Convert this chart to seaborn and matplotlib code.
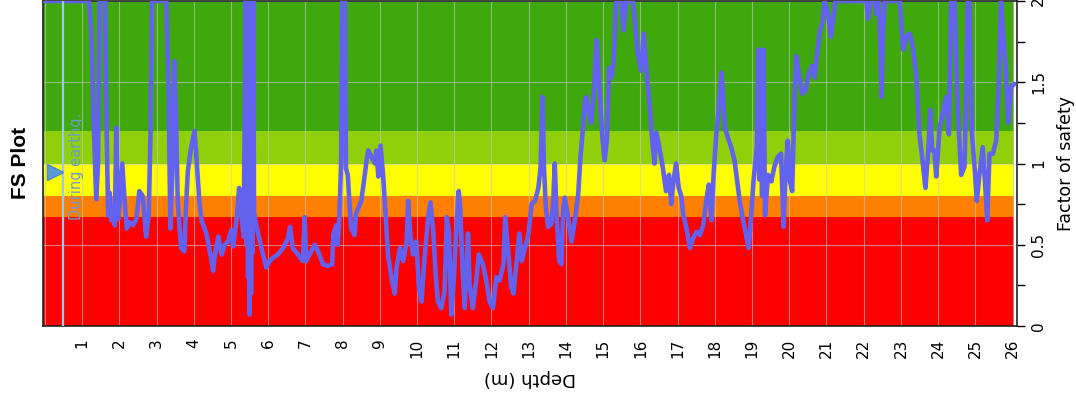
import matplotlib
matplotlib.use("Agg")
import matplotlib.pyplot as plt
from matplotlib.ticker import MultipleLocator
import numpy as np
import pandas as pd
import seaborn as sns

# Factor of safety profile (values above 2 are clipped at the chart limit)
depth = [
    0.0, 1.18, 1.25, 1.32, 1.38, 1.43, 1.47, 1.62, 1.66, 1.70, 1.74, 1.79, 1.83, 1.88, 1.92, 1.95, 1.98,
    2.08, 2.14, 2.20, 2.28, 2.37, 2.46, 2.54, 2.63, 2.68, 2.72, 2.79, 2.84, 2.88, 3.26, 3.33, 3.37, 3.42,
    3.48, 3.53, 3.57, 3.66, 3.75, 3.79, 3.84, 3.93, 4.02, 4.06, 4.15,
    4.21, 4.34, 4.48, 4.52, 4.57, 4.66, 4.75, 4.83, 4.92, 5.01, 5.06, 5.15, 5.22, 5.28, 5.34, 5.40, 5.42,
    5.44, 5.46, 5.48, 5.50, 5.52, 5.54, 5.56, 5.58, 5.60, 5.62, 5.68, 5.82, 5.95, 6.04, 6.13, 6.26, 6.40,
    6.53, 6.59, 6.66, 6.80, 6.93, 6.98, 7.02, 7.11, 7.25, 7.34, 7.47, 7.60, 7.72, 7.75, 7.83, 7.87, 7.91,
    7.96, 7.99, 8.06, 8.09, 8.14, 8.18, 8.23, 8.32, 8.36, 8.50,
    8.55, 8.645, 8.69, 8.78, 8.87, 8.91, 8.96, 9.02, 9.09, 9.16, 9.22, 9.31, 9.40, 9.45, 9.54, 9.63, 9.72,
    9.76, 9.82, 9.89, 9.98, 10.05, 10.12, 10.21, 10.30, 10.36, 10.43, 10.50, 10.56, 10.65, 10.74, 10.80,
    10.86, 10.92, 10.98, 11.05, 11.12, 11.16, 11.22, 11.28, 11.37, 11.41, 11.50, 11.59, 11.66, 11.77,
    11.86, 11.95, 12.04, 12.13, 12.22, 12.32, 12.37, 12.44, 12.53, 12.59, 12.66, 12.75,
    12.81, 12.90, 12.99, 13.08, 13.17, 13.26, 13.32, 13.37, 13.41, 13.46, 13.52, 13.61, 13.66, 13.70,
    13.75, 13.82, 13.88, 13.93, 13.97, 14.06, 14.15, 14.24, 14.33, 14.39, 14.46, 14.51, 14.55, 14.64,
    14.68, 14.75, 14.82, 14.86, 14.91, 14.98, 15.04, 15.10, 15.16, 15.22, 15.28, 15.35, 15.49, 15.55,
    15.62, 15.80, 15.85, 15.93, 16.02, 16.09, 16.16, 16.25, 16.32, 16.38, 16.43, 16.51, 16.60, 16.69,
    16.77, 16.83, 16.89, 16.96, 17.03,
    17.10, 17.15, 17.24, 17.33, 17.42, 17.51, 17.60, 17.69, 17.77, 17.84, 17.91, 17.97, 18.04, 18.11,
    18.18, 18.22, 18.27, 18.35, 18.44, 18.53, 18.58, 18.67, 18.76, 18.85, 18.91, 18.98, 19.04, 19.13,
    19.17, 19.20, 19.24, 19.27, 19.31, 19.35, 19.43, 19.52, 19.60, 19.69, 19.78, 19.85, 19.90, 19.96,
    20.02, 20.08, 20.14, 20.19, 20.26, 20.35, 20.44, 20.52, 20.61, 20.68, 20.74, 20.81, 20.90, 20.95,
    21.03, 21.12, 21.19, 21.24,
    22.07, 22.12, 22.18, 22.30, 22.34, 22.41, 22.45, 22.48, 22.52, 22.57, 22.97, 23.06, 23.15, 23.24,
    23.32, 23.41, 23.50, 23.59, 23.66, 23.73, 23.79, 23.84, 23.90, 23.95, 24.04, 24.13, 24.22, 24.29,
    24.35, 24.44, 24.53, 24.62, 24.71, 24.75, 24.80, 24.84, 24.91, 24.98, 25.04, 25.11, 25.20, 25.27,
    25.32, 25.38, 25.47, 25.56, 25.63, 25.69, 25.75, 25.82, 25.88, 25.96, 26.05,
]
fs = [
    2.0, 2.0, 1.8, 1.2, 0.78, 1.0, 2.0, 2.0, 1.2, 0.68, 0.82, 0.65, 0.72, 0.62, 1.22, 0.8, 0.66,
    1.0, 0.78, 0.60, 0.64, 0.62, 0.66, 0.83, 0.80, 0.66, 0.55, 0.68, 1.2, 2.0, 2.0, 1.4, 0.6, 0.9,
    1.63, 1.2, 0.77, 0.48, 0.46, 0.72, 0.95, 1.1, 1.2, 1.08, 0.77,
    0.65, 0.57, 0.40, 0.34, 0.44, 0.55, 0.44, 0.50, 0.52, 0.59, 0.49, 0.65, 0.85, 0.69, 0.55, 2.0, 0.5,
    2.0, 0.3, 2.0, 0.07, 2.0, 0.2, 2.0, 0.45, 2.0, 0.7, 0.62, 0.48, 0.36, 0.40, 0.42, 0.44, 0.48,
    0.54, 0.61, 0.48, 0.44, 0.40, 0.67, 0.40, 0.44, 0.50, 0.46, 0.38, 0.37, 0.38, 0.56, 0.62, 0.50, 0.66,
    1.0, 2.0, 2.0, 0.97, 0.93, 0.77, 0.60, 0.56, 0.69, 0.77,
    0.85, 1.02, 1.08, 1.04, 1.0, 1.08, 0.92, 1.11, 0.92, 0.67, 0.44, 0.30, 0.20, 0.36, 0.48, 0.40, 0.52,
    0.77, 0.56, 0.44, 0.52, 0.24, 0.15, 0.44, 0.67, 0.76, 0.60, 0.32, 0.15, 0.11, 0.21, 0.67,
    0.57, 0.07, 0.26, 0.57, 0.83, 0.73, 0.36, 0.11, 0.57, 0.26, 0.11, 0.28, 0.44, 0.38,
    0.28, 0.15, 0.11, 0.30, 0.28, 0.38, 0.67, 0.48, 0.24, 0.20, 0.36, 0.57,
    0.40, 0.48, 0.56, 0.75, 0.77, 0.85, 0.98, 1.41, 0.98, 0.73, 0.61, 0.63, 0.77, 1.0,
    0.67, 0.40, 0.38, 0.73, 0.79, 0.67, 0.52, 0.65, 0.81, 1.04, 1.22, 1.39, 1.41, 1.29,
    1.25, 1.43, 1.76, 1.64, 1.43, 1.16, 1.02, 1.14, 1.59, 1.53, 1.62, 2.0, 2.0, 1.82,
    2.0, 2.0, 1.88, 1.68, 1.57, 1.80, 1.59, 1.35, 1.14, 1.0, 1.19, 1.10, 0.98, 0.83,
    0.93, 0.75, 0.89, 1.0, 0.85,
    0.80, 0.69, 0.60, 0.48, 0.54, 0.58, 0.56, 0.62, 0.77, 0.87, 0.65, 0.94, 1.18, 1.35,
    1.56, 1.43, 1.22, 1.16, 1.10, 1.02, 0.93, 0.77, 0.65, 0.55, 0.48, 0.69, 0.89, 1.10,
    1.70, 0.90, 1.70, 0.80, 1.70, 0.68, 0.93, 0.89, 0.98, 1.04, 1.06, 0.61, 0.93, 1.14,
    0.89, 0.83, 1.39, 1.66, 1.55, 1.43, 1.45, 1.55, 1.60, 1.53, 1.66, 1.80, 1.88, 2.0,
    1.94, 1.78, 1.90, 2.0,
    2.0, 1.89, 2.0, 2.0, 1.92, 2.0, 1.70, 1.41, 1.80, 2.0, 2.0, 1.70, 1.78, 1.80,
    1.72, 1.55, 1.18, 1.0, 0.85, 1.06, 1.33, 1.08, 1.08, 0.92, 1.22, 1.31, 1.41, 1.18,
    2.0, 2.0, 1.33, 0.93, 0.98, 1.39, 2.0, 2.0, 1.18, 0.98, 0.77, 0.93, 1.10, 0.85,
    0.65, 1.06, 1.06, 1.14, 1.49, 2.0, 1.80, 1.59, 1.25, 1.47, 1.49,
]

# Safety classes: lower bound, upper bound, colour
band_low = [0.0, 0.67, 0.8, 1.0, 1.2]
band_high = [0.67, 0.8, 1.0, 1.2, 2.0]
band_colors = ["#ff0000", "#ff8000", "#ffff00", "#8fd00a", "#3ea80c"]

depth_ticks = list(range(27))
depth_labels = [""] + [str(d) for d in range(1, 27)]
fs_ticks = [0, 0.5, 1, 1.5, 2]
fs_labels = ["0", "0.5", "1", "1.5", "2"]

eq_depth = 0.5      # water table during earthquake
eq_marker_depth = 0.27
eq_marker_fs = 0.95

sns.set_style("white")
plt.rcParams["font.family"] = ["DejaVu Sans"]
plt.rcParams["text.color"] = "black"
plt.rcParams["axes.labelcolor"] = "black"
plt.rcParams["xtick.color"] = "black"
plt.rcParams["ytick.color"] = "black"

fig = plt.figure(figsize=(10.76, 3.98), dpi=100)
ax = fig.add_axes([43 / 1076, 1 - 326 / 398, 974 / 1076, 325 / 398])

for lo, hi, col in zip(band_low, band_high, band_colors):
    ax.axhspan(lo, hi, xmin=0, xmax=0.997, color=col, zorder=0.5, lw=0)

ax.set_axisbelow("line")
ax.grid(True, axis="both", color="#c8c8c8", lw=0.8, alpha=0.6)

df = pd.DataFrame({"Depth": depth, "FS": fs})
sns.lineplot(data=df, x="Depth", y="FS", sort=False, estimator=None,
             color="#6262ee", lw=3.3, ax=ax, zorder=3)

ax.axvline(eq_depth, color="#9ccbea", lw=1.6, zorder=4)
ax.plot([eq_marker_depth], [eq_marker_fs], marker=">", ms=11, color="#5b9bd5",
        mec="#4a88c8", zorder=5)
ax.text(0.86, 0.98, "During earthq.", rotation=90, ha="center", va="center",
        fontsize=10.5, color="#6f9acb", zorder=5)

ax.set_xlim(-0.05, 26.12)
ax.set_ylim(0, 2)

ax.set_xticks(depth_ticks)
ax.set_xticklabels(depth_labels, rotation=90, fontsize=11)
ax.yaxis.tick_right()
ax.yaxis.set_label_position("right")
ax.set_yticks(fs_ticks)
ax.set_yticklabels(fs_labels, rotation=90, va="center", fontsize=11)
ax.yaxis.set_minor_locator(MultipleLocator(0.25))
ax.tick_params(axis="x", direction="out", length=6, width=1.3, color="black",
               labelcolor="black", pad=3)
ax.tick_params(axis="y", which="both", direction="out", length=6, width=1.0,
               color="black", labelcolor="black", right=True, left=False, pad=4)

ax.set_xlabel("Depth (m)", rotation=180, fontsize=13, va="center", color="black")
ax.xaxis.set_label_coords(0.5, -0.16)
ax.set_ylabel("Factor of safety", rotation=90, fontsize=12.5, va="center", color="black")
ax.yaxis.set_label_coords(1.0505, 0.5)

for s in ax.spines.values():
    s.set_color("#222222")
    s.set_linewidth(1.2)

fig.text(20 / 1076, 1 - 163 / 398, "FS Plot", rotation=90, ha="center", va="center",
         fontsize=15, fontweight="bold", color="black",
         family=["Liberation Sans", "DejaVu Sans"])

fig.savefig("out.png", dpi=100)
